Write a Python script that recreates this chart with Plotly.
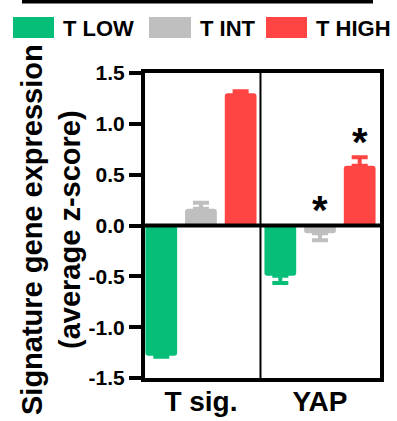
import plotly.graph_objects as go

categories = ["T sig.", "YAP"]
series_names = ["T LOW", "T INT", "T HIGH"]
low_vals = [-1.28, -0.495]
low_err = [0.01, 0.07]
int_vals = [0.164, -0.075]
int_err = [0.06, 0.07]
high_vals = [1.30, 0.587]
high_err = [0.02, 0.085]
colors = ["#06BE78", "#BFBFBF", "#FF4444"]
y_ticks = [-1.5, -1.0, -0.5, 0.0, 0.5, 1.0, 1.5]
y_tick_labels = ["-1.5", "-1.0", "-0.5", "0.0", "0.5", "1.0", "1.5"]
star_points = [("YAP", 1, 0.15), ("YAP", 2, 0.82)]

W, H = 397, 421
L, R, T, B = 145, 17, 73, 43
PW, PH = W - L - R, H - T - B
FONT = "Liberation Sans, Arial, sans-serif"


def px(x):
    return (x - L) / PW


def py(y):
    return (H - B - y) / PH


fig = go.Figure()
for name, vals, errs, col in zip(series_names, [low_vals, int_vals, high_vals],
                                  [low_err, int_err, high_err], colors):
    up = [e if v >= 0 else 0 for v, e in zip(vals, errs)]
    dn = [e if v < 0 else 0 for v, e in zip(vals, errs)]
    fig.add_trace(go.Bar(
        x=categories, y=vals, name=name, marker=dict(color=col, line=dict(width=0)),
        error_y=dict(type="data", symmetric=False, array=up, arrayminus=dn,
                     color=col, thickness=4, width=8),
        showlegend=False,
    ))

shapes = []
shapes.append(dict(type="line", xref="paper", yref="y", x0=0, x1=1, y0=0, y1=0,
                   line=dict(color="black", width=4), layer="above"))
shapes.append(dict(type="line", xref="x", yref="paper", x0=0.5, x1=0.5, y0=0, y1=1,
                   line=dict(color="black", width=2), layer="above"))
shapes.append(dict(type="rect", xref="paper", yref="paper", x0=px(22), x1=px(373),
                   y0=py(3.5), y1=py(-2), fillcolor="black", line=dict(width=0)))

annotations = []
legend_items = [(13, 54, 61), (149, 191, 198), (266, 307, 314)]
for (sx0, sx1, tx), name, col in zip(legend_items, series_names, colors):
    shapes.append(dict(type="rect", xref="paper", yref="paper", x0=px(sx0), x1=px(sx1),
                       y0=py(38), y1=py(17), fillcolor=col, line=dict(width=0)))
    annotations.append(dict(xref="paper", yref="paper", x=px(tx), y=py(28),
                            xanchor="left", yanchor="middle", text="<b>%s</b>" % name,
                            showarrow=False,
                            font=dict(family=FONT, size=22, color="black")))

annotations.append(dict(xref="paper", yref="paper", x=px(51), y=py(230),
                        xanchor="center", yanchor="middle", textangle=-90,
                        text="<b>Signature gene expression<br>(average z-score)</b>",
                        showarrow=False,
                        font=dict(family=FONT, size=29, color="black")))

for cat, idx, yv in star_points:
    annotations.append(dict(xref="x", yref="y", x=cat, y=yv, xshift=(idx - 1) * 39.5,
                            text="<b>*</b>", showarrow=False, yanchor="middle",
                            font=dict(family=FONT, size=40, color="black")))

fig.update_layout(
    width=W, height=H, autosize=False,
    margin=dict(l=L, r=R, t=T, b=B, pad=0),
    paper_bgcolor="white", plot_bgcolor="white",
    barmode="group", bargap=0.0, bargroupgap=0.2, barcornerradius=3,
    shapes=shapes, annotations=annotations,
    font=dict(family=FONT, color="black"),
)
fig.update_xaxes(
    type="category", range=[-0.47, 1.504], automargin=False,
    showline=True, linewidth=4, linecolor="black", mirror=True,
    ticks="", showgrid=False, zeroline=False,
    tickfont=dict(family=FONT, size=28, color="black"),
    ticklabelstandoff=-5,
    tickvals=categories, ticktext=["<b>%s</b>" % c for c in categories],
)
fig.update_yaxes(
    range=[-1.5, 1.5], automargin=False,
    tickvals=y_ticks, ticktext=["<b>%s</b>" % t for t in y_tick_labels],
    showline=True, linewidth=4, linecolor="black", mirror=True,
    ticks="outside", ticklen=12, tickwidth=4, tickcolor="black",
    showgrid=False, zeroline=False,
    tickfont=dict(family=FONT, size=21, color="black"),
)

fig.write_html("out.html", config={"displayModeBar": False, "responsive": False},
               post_script="document.body.style.margin='0';document.body.style.overflow='hidden';")
